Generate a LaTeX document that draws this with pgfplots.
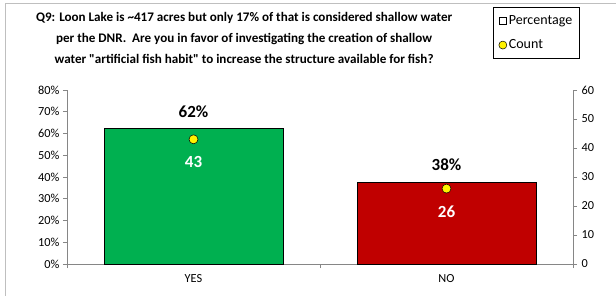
\documentclass[border=0pt]{standalone}
\usepackage{pgfplots}
\pgfplotsset{compat=1.18}
\usepackage{fontspec}
\setmainfont{Carlito}[Ligatures=TeXOff]
\definecolor{bargreen}{HTML}{00B050}
\definecolor{barred}{HTML}{C00000}
\definecolor{axgray}{HTML}{868686}
\definecolor{framegray}{HTML}{BFBFBF}
\begin{document}
\begin{tikzpicture}
\useasboundingbox (-67bp,-32bp) rectangle (549bp,264bp);
\draw[framegray, line width=0.8bp] (-62bp,-40bp) -- (-62bp,261bp) -- (560bp,261bp);
\begin{axis}[
  scale only axis, width=506bp, height=174bp,
  xmin=-0.5, xmax=1.5, ymin=0, ymax=80,
  axis x line*=bottom, axis y line*=left,
  axis line style={axgray, line width=0.6bp, -},
  tick style={axgray, line width=0.6bp},
  tick align=outside, major tick length=4bp,
  xtick={-0.5,0.5,1.5}, xticklabels={},
  extra x ticks={0,1}, extra x tick labels={YES,NO},
  extra x tick style={major tick length=0pt, tick label style={yshift=-7bp}},
  ytick={0,10,...,80},
  /pgf/number format/assume math mode=true,
  yticklabel={\pgfmathprintnumber{\tick}\%},
  tick label style={font=\fontsize{12.3bp}{14bp}\selectfont, black},
  title={Q9: Loon Lake is \textasciitilde417 acres but only 17\% of that is considered shallow water\\per the DNR.\ \ Are you in favor of investigating the creation of shallow\\water "artificial fish habit" to increase the structure available for fish?},
  title style={at={(axis description cs:0.35,1.265)}, anchor=center, align=center, font=\bfseries\fontsize{13.1bp}{21bp}\selectfont},
  clip=false,
]
\addplot[ybar, bar width=179bp, bar shift=0pt, fill=bargreen, draw=black, line width=0.5bp,
  nodes near coords={\pgfmathprintnumber[precision=0]{\pgfplotspointmeta}\%},
  every node near coord/.append style={font=\bfseries\fontsize{17bp}{19bp}\selectfont, black, yshift=7.5bp}]
  coordinates {(0,62.3)};
\addplot[ybar, bar width=179bp, bar shift=0pt, fill=barred, draw=black, line width=0.5bp,
  nodes near coords={\pgfmathprintnumber[precision=0]{\pgfplotspointmeta}\%},
  every node near coord/.append style={font=\bfseries\fontsize{17bp}{19bp}\selectfont, black, yshift=7.5bp}]
  coordinates {(1,37.7)};
\end{axis}
\begin{axis}[
  scale only axis, width=506bp, height=174bp,
  xmin=-0.5, xmax=1.5, ymin=0, ymax=60,
  axis x line=none, axis y line*=right,
  axis line style={axgray, line width=0.6bp, -},
  tick style={axgray, line width=0.6bp},
  tick align=outside, major tick length=4bp,
  ytick={0,10,...,60},
  /pgf/number format/assume math mode=true,
  tick label style={font=\fontsize{12.3bp}{14bp}\selectfont, black},
  yticklabel style={xshift=1bp},
  legend style={at={(axis description cs:0.842,1.477)}, anchor=north west, draw=black, line width=0.6bp,
    font=\fontsize{14bp}{16bp}\selectfont, row sep=10bp, inner xsep=5.5bp, inner ysep=6bp,
    /tikz/every even column/.append style={column sep=1bp}},
  legend cell align=left,
  clip=false,
]
\addlegendimage{only marks, mark=square*, mark options={draw=black, fill=white, line width=0.5bp}, mark size=3.4bp}
\addlegendentry{Percentage}
\addlegendimage{only marks, mark=*, mark options={draw=black, fill=yellow, line width=0.5bp}, mark size=4bp}
\addlegendentry{Count}
\addplot[only marks, mark=*, mark size=4.5bp, mark options={draw=black, fill=yellow, line width=0.5bp},
  nodes near coords,
  every node near coord/.append style={anchor=center, yshift=-23bp, white, font=\bfseries\fontsize{17bp}{19bp}\selectfont}]
  coordinates {(0,43) (1,26)};
\end{axis}
\end{tikzpicture}
\end{document}
